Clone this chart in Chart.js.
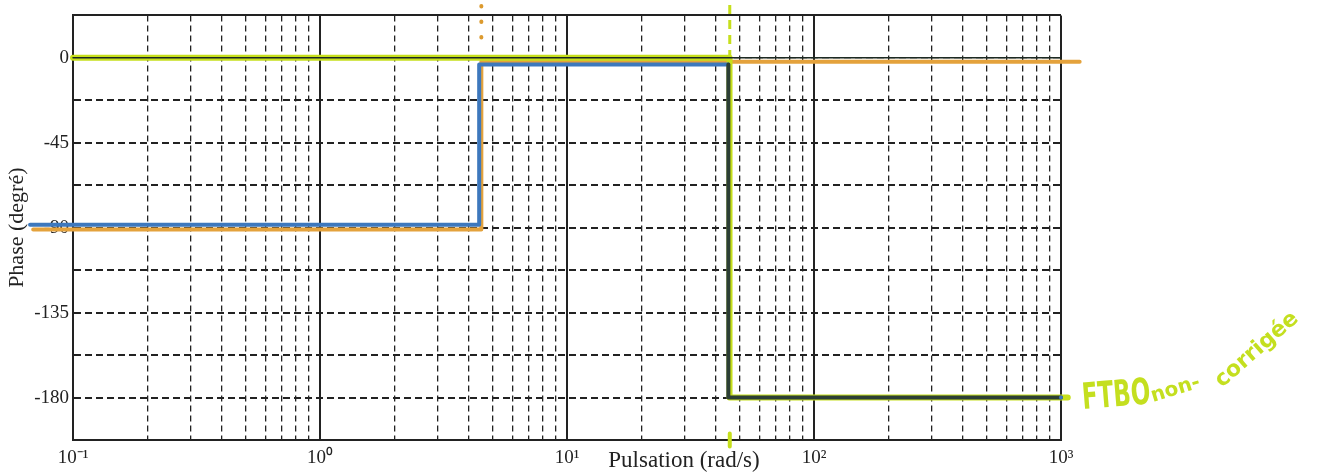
<!DOCTYPE html>
<html>
<head>
<meta charset="utf-8">
<script src="https://cdn.jsdelivr.net/npm/chart.js@4"></script>
<style>
  body { margin: 0; background: #fff; }
</style>
</head>
<body>
<canvas id="bode" width="1317" height="475"></canvas>
<script>
// axis ticks
const decades = [0.1, 1, 10, 100, 1000];
const decadeLabels = ['10\u207B\u00B9', '10\u2070', '10\u00B9', '10\u00B2', '10\u00B3'];
const phaseLabels = [0, -45, -90, -135, -180];
const phaseGrid = [22.5, 0, -22.5, -45, -67.5, -90, -112.5, -135, -157.5, -180, -202.5];
const xTitle = 'Pulsation (rad/s)';

// printed curve (thin black under the markers)
const printedX = [0.1, 1000];
const printedY = [0, 0];

// orange marker
const orangeX = [0.069, 4.5, 4.5, 1190];
const orangeY = [-91, -91, -2, -2];

// green marker : FTBO non corrigee
const greenX = [0.1, 45.5, 45.5, 1065];
const greenY = [0, 0, -180, -180];

// blue marker
const blueX = [0.067, 4.41, 4.41, 45, 45, 1000, 1140];
const blueY = [-88.5, -88.5, -3.5, -3.5, -180, -180, -180];

// hand annotations
const orangeDotsX = [4.5, 4.5];
const orangeDotsY = [27.5, 5.5];
const greenDashX = [45.6, 45.6];
const greenDashY = [28, 1];
const greenTickX = [45.6, 45.6];
const greenTickY = [-199, -206];
const noteMain = 'FTBO';
const noteSub1 = 'non-';
const noteSub2 = 'corrigée';

const pts = (xs, ys) => xs.map((x, i) => ({x: x, y: ys[i]}));
const isDecade = v => Math.abs(Math.log10(v) - Math.round(Math.log10(v))) < 1e-6;

const line = (data, color, width, extra) => Object.assign({
  data: data,
  borderColor: color,
  borderWidth: width,
  pointRadius: 0,
  tension: 0,
  clip: false,
  borderCapStyle: 'round',
  borderJoinStyle: 'round'
}, extra || {});

// x title sits right of centre in the scan, and the green hand note
const handNote = {
  id: 'handNote',
  afterDraw(chart) {
    const c = chart.ctx;
    c.save();
    c.fillStyle = '#222';
    c.font = '23px "Liberation Serif"';
    c.textAlign = 'center';
    c.textBaseline = 'alphabetic';
    c.fillText(xTitle, 684, 467);
    c.restore();

    c.save();
    c.fillStyle = '#c4df1f';
    c.translate(1083, 409);
    c.rotate(-0.08);
    c.scale(0.82, 1.3);
    c.font = 'bold 28px "DejaVu Sans"';
    c.fillText(noteMain, 0, 0);
    c.restore();

    c.save();
    c.fillStyle = '#c4df1f';
    c.translate(1153, 402);
    c.rotate(-0.3);
    c.font = 'bold 20px "DejaVu Sans"';
    c.fillText(noteSub1, 0, 0);
    c.restore();

    c.save();
    c.fillStyle = '#c4df1f';
    c.translate(1222, 388);
    c.rotate(-0.72);
    c.font = 'bold 22px "DejaVu Sans"';
    c.fillText(noteSub2, 0, 0);
    c.restore();
  }
};

// first dataset is painted on top
const chart = new Chart(document.getElementById('bode').getContext('2d'), {
  type: 'line',
  data: {
    datasets: [
      line(pts(greenTickX, greenTickY), '#c6df1c', 4),
      line(pts(greenDashX, greenDashY), '#c6df1c', 3, {borderDash: [9, 6], borderCapStyle: 'butt'}),
      line(pts(orangeDotsX, orangeDotsY), '#dc9a2e', 4, {borderDash: [0.5, 15]}),
      line(pts(blueX, blueY), '#3d78bd', 4, {
        segment: {
          borderColor: ctx => (ctx.p0DataIndex >= 3 && ctx.p0DataIndex <= 4) ? '#2c3f35' : '#3d78bd'
        }
      }),
      line(pts(printedX, printedY), '#1d2a22', 1.5),
      line(pts(greenX, greenY), '#c6df1c', 6),
      line(pts(orangeX, orangeY), '#e4a23c', 4)
    ]
  },
  options: {
    responsive: false,
    animation: false,
    devicePixelRatio: 1,
    layout: { padding: { top: 11, right: 256, left: 0, bottom: 0 } },
    plugins: { legend: { display: false }, tooltip: { enabled: false } },
    scales: {
      x: {
        type: 'logarithmic',
        min: 0.1,
        max: 1000,
        afterBuildTicks: scale => {
          const t = [];
          for (let e = -1; e < 3; e++) {
            for (let m = 1; m < 10; m++) t.push({value: m * Math.pow(10, e)});
          }
          t.push({value: 1000});
          scale.ticks = t;
        },
        afterFit: scale => { scale.height = 35; },
        ticks: {
          autoSkip: false,
          maxRotation: 0,
          padding: 7,
          color: '#222',
          font: { family: '"Liberation Serif"', size: 19 },
          callback: v => {
            const i = decades.findIndex(d => Math.abs(d - v) / d < 1e-6);
            return i >= 0 ? decadeLabels[i] : '';
          }
        },
        grid: {
          drawTicks: false,
          color: '#222',
          lineWidth: ctx => (ctx.tick && isDecade(ctx.tick.value)) ? 2 : 1.3
        },
        border: {
          color: '#222',
          width: 2,
          dash: ctx => (ctx.tick && isDecade(ctx.tick.value)) ? [] : [6, 4]
        },
        title: { display: false }
      },
      y: {
        min: -202.5,
        max: 22.5,
        afterBuildTicks: scale => { scale.ticks = phaseGrid.map(v => ({value: v})); },
        afterFit: scale => { scale.width = 73; },
        ticks: {
          autoSkip: false,
          padding: 4,
          color: '#222',
          font: { family: '"Liberation Serif"', size: 19 },
          callback: v => phaseLabels.includes(v) ? String(v) : ''
        },
        grid: {
          drawTicks: false,
          color: '#222',
          lineWidth: ctx => (ctx.tick && Math.abs(ctx.tick.value) > 22) ? 2 : 1.3
        },
        border: {
          color: '#222',
          width: 2,
          dash: ctx => (ctx.tick && (ctx.tick.value === 22.5 || ctx.tick.value === -202.5)) ? [] : [7, 4]
        },
        title: {
          display: true,
          text: 'Phase (degré)',
          color: '#222',
          font: { family: '"Liberation Serif"', size: 22 },
          padding: { top: 4, bottom: 0 }
        }
      }
    }
  },
  plugins: [handNote]
});
</script>
</body>
</html>
